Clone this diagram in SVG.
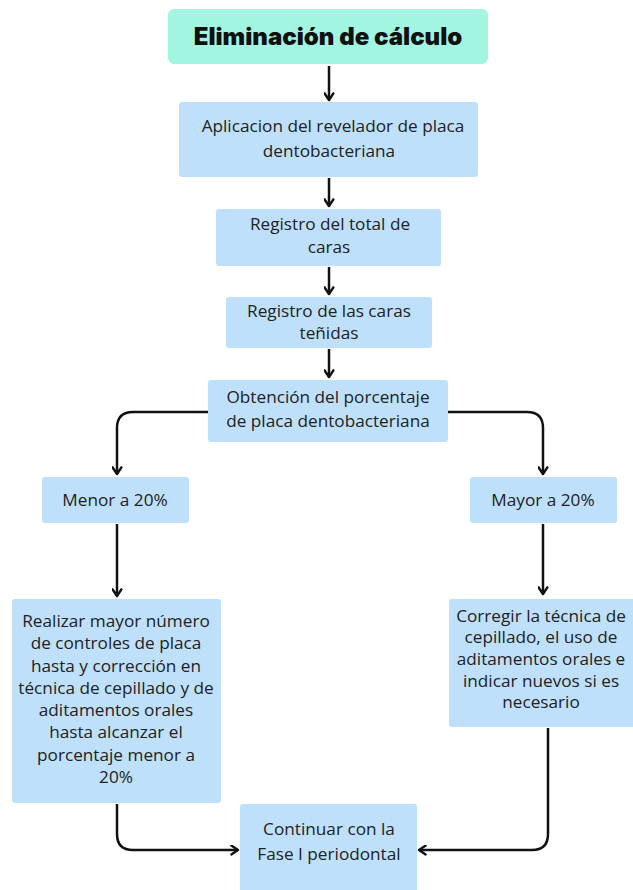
<svg xmlns="http://www.w3.org/2000/svg" width="633" height="890" viewBox="0 0 633 890">
  <defs>
    <marker id="arrow" viewBox="0 0 10 10" refX="8" refY="5" markerWidth="11" markerHeight="11" markerUnits="userSpaceOnUse" orient="auto">
      <path d="M2,1 L8,5 L2,9" fill="none" stroke="#111" stroke-width="2.2" stroke-linecap="round" stroke-linejoin="round"/>
    </marker>
  </defs>
  <style>
    .title-box { fill: #a2f5e0; }
    .box { fill: #bfe0fb; }
    .title { font-family: "Inter", "Liberation Sans", sans-serif; font-weight: 900; font-size: 24px; fill: #111; text-anchor: middle; }
    .label { font-family: "Open Sans", "Liberation Sans", sans-serif; font-size: 17.2px; fill: #222; text-anchor: middle; }
    .conn { fill: none; stroke: #111; stroke-width: 2.5; marker-end: url(#arrow); }
  </style>
  <rect width="633" height="890" fill="#ffffff"/>

  <g id="connectors">
    <path class="conn" d="M329,66 V100"/>
    <path class="conn" d="M329,178 V206"/>
    <path class="conn" d="M329,267 V294"/>
    <path class="conn" d="M329,349 V377"/>
    <path class="conn" d="M208,412 H133 Q117,412 117,428 V474"/>
    <path class="conn" d="M448,412 H527 Q543,412 543,428 V474"/>
    <path class="conn" d="M117,524 V596"/>
    <path class="conn" d="M543,524 V594"/>
    <path class="conn" d="M117,804 V834 Q117,850 133,850 H238"/>
    <path class="conn" d="M548,728 V834 Q548,850 532,850 H419"/>
  </g>

  <g id="n-title">
    <rect class="title-box" x="168" y="9" width="320" height="55" rx="6"/>
    <text class="title" x="328" y="45">Eliminación de cálculo</text>
  </g>

  <g id="n-aplicacion">
    <rect class="box" x="179" y="102" width="299" height="75" rx="3"/>
    <text class="label" x="333" y="132">Aplicacion del revelador de placa</text>
    <text class="label" x="329" y="157">dentobacteriana</text>
  </g>

  <g id="n-total">
    <rect class="box" x="216" y="209" width="225" height="57" rx="3"/>
    <text class="label" x="330" y="230">Registro del total de</text>
    <text class="label" x="329" y="253">caras</text>
  </g>

  <g id="n-tenidas">
    <rect class="box" x="226" y="297" width="206" height="51" rx="3"/>
    <text class="label" x="329" y="317">Registro de las caras</text>
    <text class="label" x="329" y="339">teñidas</text>
  </g>

  <g id="n-porcentaje">
    <rect class="box" x="208" y="380" width="240" height="62" rx="3"/>
    <text class="label" x="328" y="403">Obtención del porcentaje</text>
    <text class="label" x="328" y="427">de placa dentobacteriana</text>
  </g>

  <g id="n-menor">
    <rect class="box" x="42" y="477" width="147" height="46" rx="3"/>
    <text class="label" x="115" y="506">Menor a 20%</text>
  </g>

  <g id="n-mayor">
    <rect class="box" x="470" y="477" width="147" height="46" rx="3"/>
    <text class="label" x="543" y="506">Mayor a 20%</text>
  </g>

  <g id="n-realizar">
    <rect class="box" x="12" y="599" width="209" height="204" rx="3"/>
    <text class="label" x="116" y="627">Realizar mayor número</text>
    <text class="label" x="116" y="649">de controles de placa</text>
    <text class="label" x="116" y="672">hasta y corrección en</text>
    <text class="label" x="116" y="694">técnica de cepillado y de</text>
    <text class="label" x="116" y="716">aditamentos orales</text>
    <text class="label" x="116" y="738">hasta alcanzar el</text>
    <text class="label" x="116" y="761">porcentaje menor a</text>
    <text class="label" x="116" y="783">20%</text>
  </g>

  <g id="n-corregir">
    <rect class="box" x="449" y="599" width="190" height="128" rx="3"/>
    <text class="label" x="541" y="622">Corregir la técnica de</text>
    <text class="label" x="541" y="643">cepillado, el uso de</text>
    <text class="label" x="541" y="665">aditamentos orales e</text>
    <text class="label" x="541" y="687">indicar nuevos si es</text>
    <text class="label" x="541" y="708">necesario</text>
  </g>

  <g id="n-continuar">
    <rect class="box" x="240" y="804" width="177" height="90" rx="3"/>
    <text class="label" x="329" y="835">Continuar con la</text>
    <text class="label" x="329" y="860">Fase I periodontal</text>
  </g>
</svg>
